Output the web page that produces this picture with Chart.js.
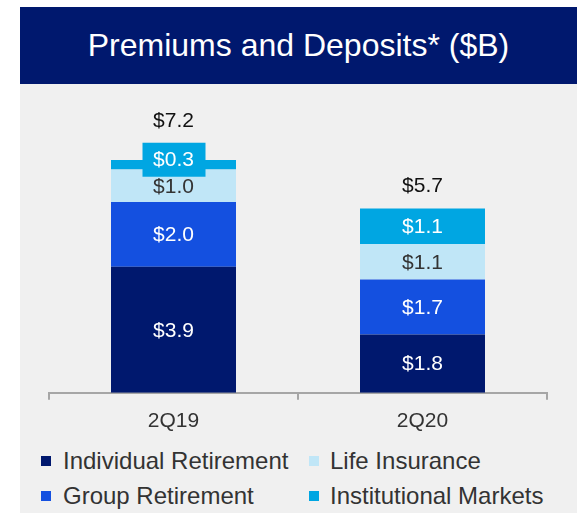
<!DOCTYPE html>
<html>
<head>
<meta charset="utf-8">
<script src="https://cdn.jsdelivr.net/npm/chart.js@4/dist/chart.umd.min.js"></script>
<style>
  body { margin: 0; background: #fff; font-family: "Liberation Sans", Arial, sans-serif; }
  #page { position: relative; width: 577px; height: 513px; overflow: hidden; }
  #panel { position: absolute; left: 20px; top: 7px; width: 557px; height: 506px; background: #f0f0f0; }
  #title {
    position: absolute; left: 20px; top: 7px; width: 557px; height: 77px;
    background: #00186e; color: #fff; font-size: 32px;
    display: flex; align-items: center; justify-content: center;
  }
  #chartBox { position: absolute; left: 0; top: 84px; width: 577px; height: 359px; }
  .legend-item { position: absolute; font-size: 24px; color: #333; line-height: 24px; white-space: nowrap; }
  .legend-item span {
    position: absolute; width: 10px; height: 10px; top: 7px;
  }
</style>
</head>
<body>
<div id="page">
  <div id="panel"></div>
  <div id="title">Premiums and Deposits* ($B)</div>
  <div id="chartBox"><canvas id="chart" width="577" height="359"></canvas></div>
  <div id="legend"></div>
</div>

<script>
/* ================= DATA ================= */

const quarters = ["2Q19", "2Q20"];
const individualRetirement = [3.9, 1.8];
const groupRetirement = [2.0, 1.7];
const lifeInsurance = [1.0, 1.1];
const institutionalMarkets = [0.3, 1.1];
const totals = [7.2, 5.7];

const seriesNames = ["Individual Retirement", "Group Retirement", "Life Insurance", "Institutional Markets"];
const seriesColors = ["#00186e", "#1450e0", "#c0e6f7", "#00a6e2"];
const labelColors = ["#ffffff", "#ffffff", "#333333", "#ffffff"];

/* ================= LEGEND ================= */

// legend is laid out in two columns: IR, LI / GR, IM
const legendSlots = [
  { idx: 0, x: 41, y: 449 },
  { idx: 2, x: 309, y: 449 },
  { idx: 1, x: 41, y: 484 },
  { idx: 3, x: 309, y: 484 }
];

document.getElementById("legend").innerHTML = legendSlots.map(s => `
  <div class="legend-item" style="left:${s.x}px;top:${s.y}px;padding-left:${s.x === 41 ? 22 : 21}px">
    <span style="left:0;background:${seriesColors[s.idx]}"></span>${seriesNames[s.idx]}
  </div>`).join("");

/* ================= LABELS PLUGIN ================= */

const valueLabels = {
  id: "valueLabels",
  afterDatasetsDraw(chart) {
    const ctx = chart.ctx;
    ctx.save();
    ctx.font = "21px 'Liberation Sans', Arial, sans-serif";
    ctx.textAlign = "center";
    ctx.textBaseline = "middle";

    const tops = [];
    chart.data.datasets.forEach((ds, di) => {
      const meta = chart.getDatasetMeta(di);
      meta.data.forEach((bar, i) => {
        const v = ds.data[i];
        const text = "$" + v.toFixed(1);
        let cy = (bar.y + bar.base) / 2;
        let top = bar.y;
        if (bar.base - bar.y < 22) {
          // thin segment: label sits in a box of its own
          cy -= 6;
          const w = 63, h = 34;
          ctx.fillStyle = seriesColors[di];
          ctx.fillRect(bar.x - w / 2 + 0.5, cy - h / 2 + 1, w, h);
          top = Math.min(top, cy - h / 2 + 1);
        }
        ctx.fillStyle = labelColors[di];
        ctx.fillText(text, bar.x, cy + 1);
        tops[i] = tops[i] === undefined ? top : Math.min(tops[i], top);
      });
    });

    const meta0 = chart.getDatasetMeta(0);
    ctx.fillStyle = "#111";
    totals.forEach((t, i) => {
      ctx.fillText("$" + t.toFixed(1), meta0.data[i].x, tops[i] - 22);
    });
    ctx.restore();
  }
};

/* ================= CHART ================= */

const datasetsData = [individualRetirement, groupRetirement, lifeInsurance, institutionalMarkets];

new Chart(document.getElementById("chart").getContext("2d"), {
  type: "bar",
  data: {
    labels: quarters,
    datasets: datasetsData.map((d, i) => ({
      label: seriesNames[i],
      data: d,
      backgroundColor: seriesColors[i],
      barPercentage: 1,
      categoryPercentage: 0.502
    }))
  },
  options: {
    responsive: false,
    animation: false,
    layout: { padding: { top: 50, left: 49, right: 30, bottom: 0 } },
    plugins: {
      legend: { display: false },
      tooltip: { enabled: false }
    },
    scales: {
      x: {
        stacked: true,
        border: { display: true, color: "#a6a6a6", width: 2 },
        grid: {
          drawOnChartArea: false,
          drawTicks: true,
          tickLength: 7,
          color: "#a6a6a6",
          lineWidth: 2
        },
        ticks: {
          color: "#333",
          padding: 9,
          font: { family: "'Liberation Sans', Arial, sans-serif", size: 21 }
        }
      },
      y: {
        stacked: true,
        display: false,
        min: 0,
        max: 8
      }
    }
  },
  plugins: [valueLabels]
});
</script>
</body>
</html>
